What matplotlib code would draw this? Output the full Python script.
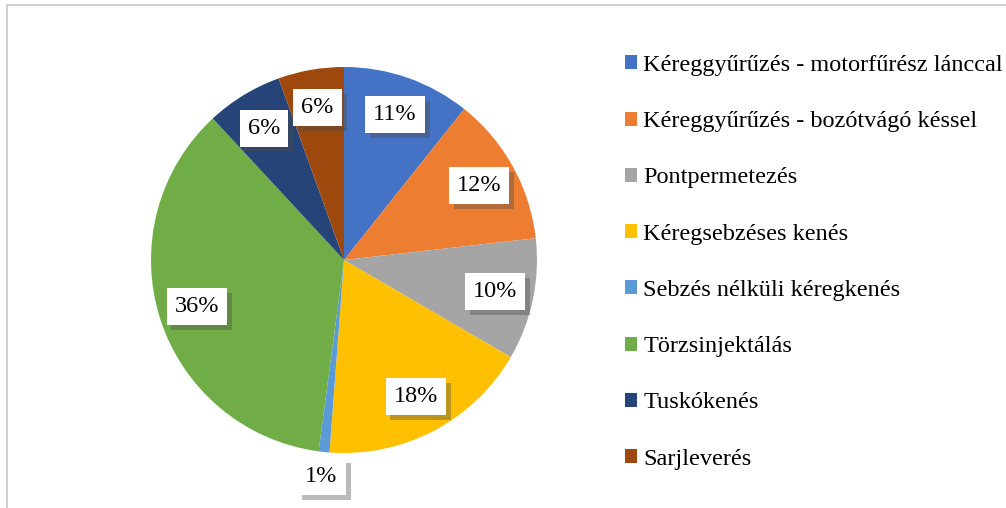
import matplotlib.pyplot as plt
import matplotlib.patheffects as pe
from matplotlib.patches import Rectangle

# adatok
categories = ['Kéreggyűrűzés - motorfűrész lánccal', 'Kéreggyűrűzés - bozótvágó késsel',
              'Pontpermetezés', 'Kéregsebzéses kenés', 'Sebzés nélküli kéregkenés',
              'Törzsinjektálás', 'Tuskókenés', 'Sarjleverés']
values = [10.7, 12.5, 10.2, 17.8, 0.9, 36.0, 6.4, 5.5]
colors = ['#4472C4', '#ED7D31', '#A5A5A5', '#FFC000', '#5B9BD5', '#70AD47', '#264478', '#9E480E']

plt.rcParams['font.family'] = ['Liberation Serif', 'DejaVu Serif']

W, H = 1006, 508
fig = plt.figure(figsize=(W / 100, H / 100), dpi=100)

# keret
fig.patches.append(Rectangle((7 / W, -0.1), 1.2, (H - 5) / H + 0.1, transform=fig.transFigure,
                             fill=False, edgecolor='#C8C8C8', linewidth=1.2))

cx, cy, r = 344, 260, 193
lim = 1.3
ax = fig.add_axes([(cx - r * lim) / W, (H - cy - r * lim) / H, 2 * r * lim / W, 2 * r * lim / H])
wedges, texts, autotexts = ax.pie(values, colors=colors, startangle=90, counterclock=False,
                                  autopct=lambda p: '%.0f%%' % p, pctdistance=0.8,
                                  wedgeprops=dict(linewidth=0))
ax.set_xlim(-lim, lim)
ax.set_ylim(-lim, lim)
ax.set_aspect('equal')
ax.axis('off')

for i, t in enumerate(autotexts):
    t.set_fontsize(17.5)
    t.set_color('black')
    if values[i] < 2:
        x, y = t.get_position()
        t.set_position((x * 1.13 / 0.8, y * 1.13 / 0.8))
    t.set_bbox(dict(boxstyle='square,pad=0.33', facecolor='white', edgecolor='none'))
    t.get_bbox_patch().set_path_effects([pe.SimplePatchShadow(offset=(3.5, -3.5), alpha=0.38),
                                         pe.Normal()])

fig.legend(wedges, categories, loc='upper left', bbox_to_anchor=(625 / W, (H - 55) / H),
           frameon=False, fontsize=17.5, labelspacing=1.45, handlelength=0.5, handleheight=0.5,
           handletextpad=0.25, borderpad=0, borderaxespad=0)

fig.savefig('out.png', dpi=100)
